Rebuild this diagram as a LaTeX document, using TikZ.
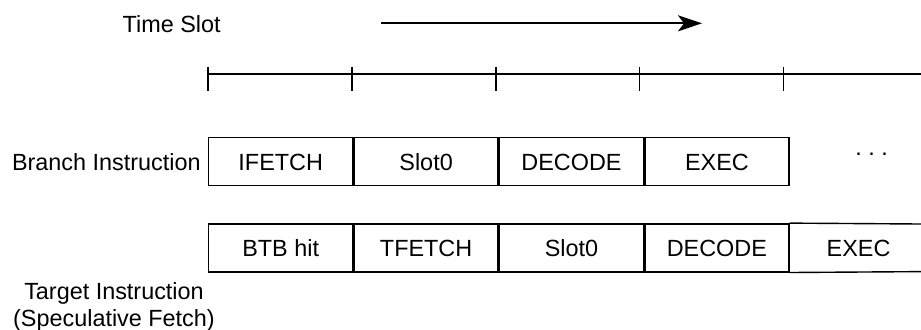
\documentclass[tikz,border=0pt]{standalone}
\usepackage{fontspec}
\setmainfont{Liberation Sans}
\usetikzlibrary{arrows.meta}
\begin{document}
\begin{tikzpicture}[x=0.5pt,y=-0.5pt,
  every node/.style={font=\fontsize{11.7}{13.5}\selectfont, inner sep=0pt},
  cell/.style={draw, line width=0.7pt, minimum width=72pt, minimum height=24pt, anchor=west, text height=8.4pt, text depth=0pt},
  opencell/.style={minimum width=68.6pt, minimum height=24pt, anchor=west, text height=8.4pt, text depth=0pt},
  axis/.style={line width=0.7pt},
  timearrow/.style={line width=1.1pt, -{Stealth[length=12pt,width=8pt,inset=3pt]}}]
\useasboundingbox (0,0) rectangle (921,329);
% time arrow
\node (ts) at (171.7,24) {Time Slot};
\coordinate (a0) at (381,23.3);
\coordinate (a1) at (702,23.3);
\draw[timearrow] (a0) -- (a1);
% time axis
\coordinate (l0) at (208,74);
\coordinate (l1) at (921,74);
\draw[axis] (l0) -- (l1);
\foreach \i/\x in {0/208,1/351.9,2/495.8,3/639.7,4/783.6}{
  \coordinate (k\i a) at (\x,66.7);
  \coordinate (k\i b) at (\x,90.7);
  \draw[axis] (k\i a) -- (k\i b);
}
% branch row
\node[anchor=east] (bl) at (201,161.7) {Branch Instruction};
\node[cell] (b1) at (208,161.7) {IFETCH};
\node[cell] (b2) at (b1.east) {Slot0};
\node[cell] (b3) at (b2.east) {DECODE};
\node[cell] (b4) at (b3.east) {EXEC};
\node[anchor=base] (dots) at (871.7,155) {.\ .\ .};
% target row
\node[cell] (t1) at (208,247.8) {BTB hit};
\node[cell] (t2) at (t1.east) {TFETCH};
\node[cell] (t3) at (t2.east) {Slot0};
\node[cell] (t4) at (t3.east) {DECODE};
\node[opencell] (t5) at (t4.east) {EXEC};
\coordinate (e1) at (921,224);
\coordinate (e2) at (921,271.6);
\draw[axis] (t4.north east) -- (e1);
\draw[axis] (t4.south east) -- (e2);
\node[align=center, anchor=north] (tl) at (114,281.7) {Target Instruction\\(Speculative Fetch)};
\end{tikzpicture}
\end{document}
